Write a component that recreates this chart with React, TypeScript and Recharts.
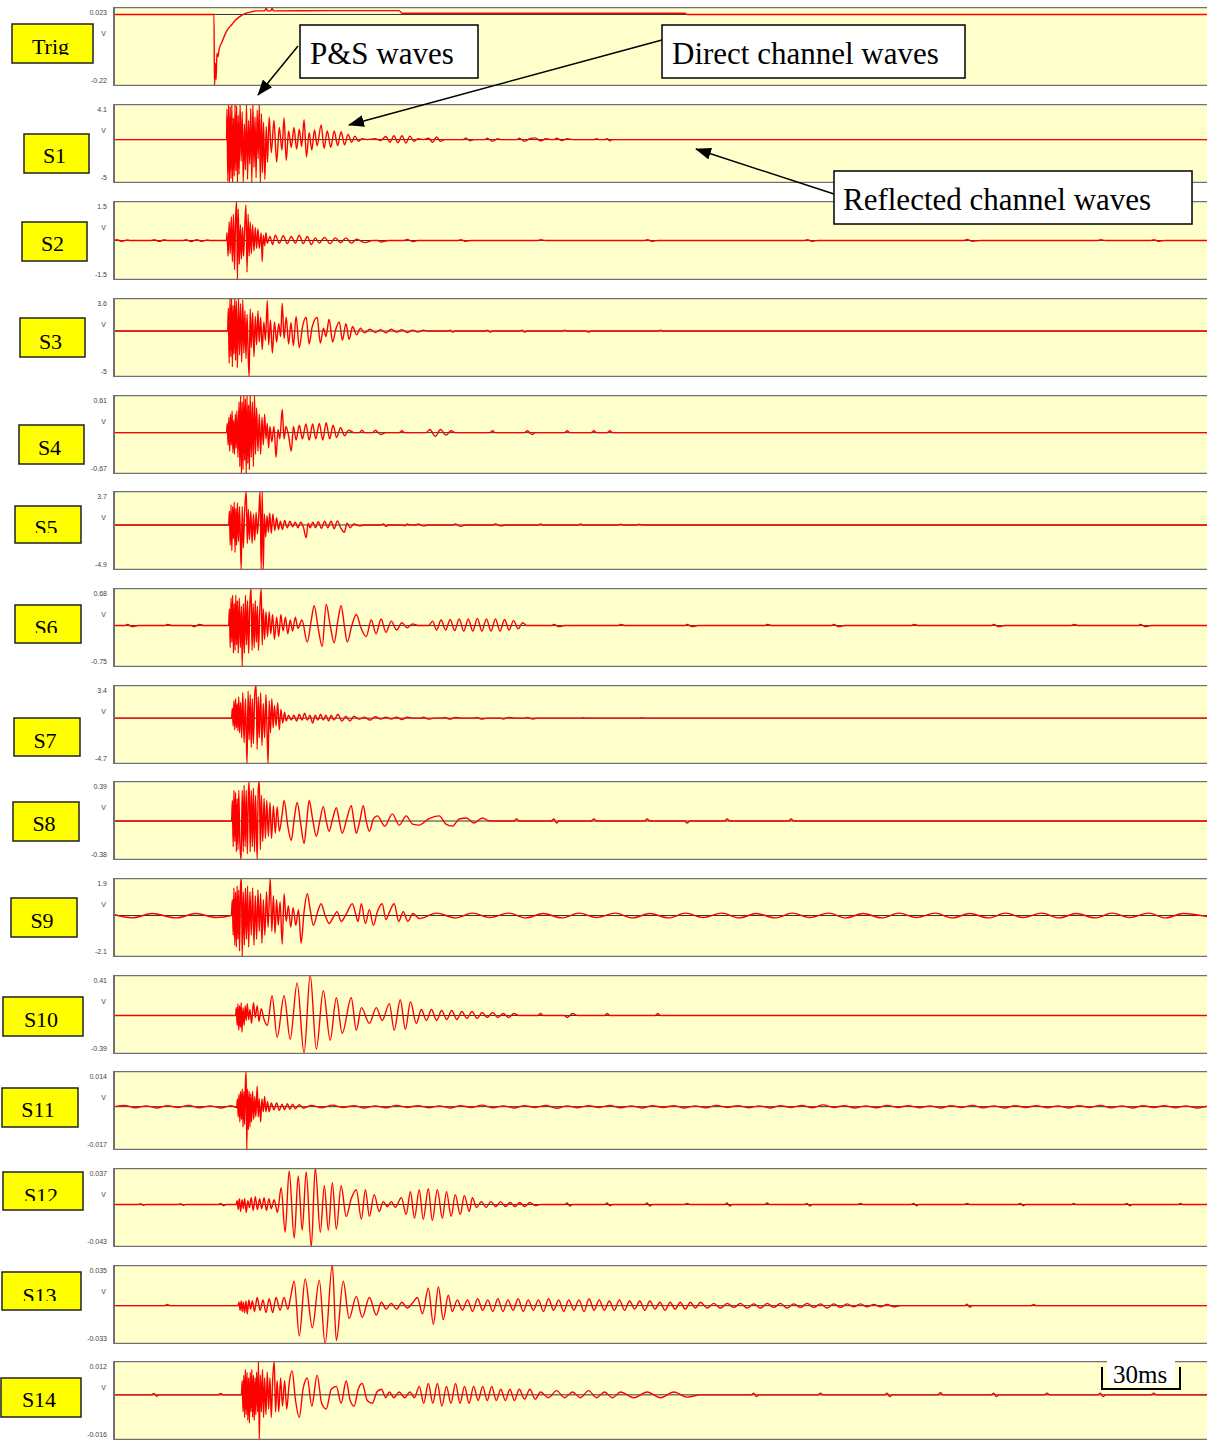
import React from 'react';
import { LineChart, Line, XAxis, YAxis, CartesianGrid, ReferenceLine } from 'recharts';

type Pt = [number, number];

// time in ms, value in V
const trig: Pt[] = [[0,0],[37.5,0],[37.7,-0.22],[38,-0.15],[38.3,-0.2],[38.6,-0.12],[39,-0.13],[39.4,-0.108],[40.5,-0.085],[42,-0.055],[43,-0.042],[44.3,-0.03],[45.5,-0.018],[46.9,-0.008],[48,-0.002],[49.6,0.004],[51.5,0.008],[53.3,0.011],[56.5,0.011],[57.1,0.02],[57.6,0.011],[58.8,0.011],[59.3,0.02],[59.8,0.011],[80,0.012],[107,0.012],[108,0.004],[214,0.004],[215,0],[410,0]];

const s1: Pt[] = [[0,0],[42.2,0],[42.4,3.5],[42.7,-4.8],[43,4.1],[43.3,-5],[43.6,3.8],[43.9,-4.5],[44.2,4.1],[44.5,-5],[44.8,2.5],[45.1,-4.2],[45.4,4.1],[45.7,-3.6],[46,3.9],[46.3,-5],[46.6,2.8],[46.9,-4],[47.3,4.1],[47.7,-2.5],[48.1,3.2],[48.5,-5],[48.9,1.8],[49.3,-3.5],[49.7,4.1],[50.1,-4.6],[50.5,2.2],[50.9,-2.8],[51.3,3.6],[51.7,-5],[52.1,4.1],[52.5,-3.2],[52.9,2.6],[53.3,-4.4],[53.7,3.4],[54.1,-2.2],[54.5,4.1],[54.9,-5],[55.3,3],[55.7,-3.8],[56.1,2],[56.6,-4.6],[57.1,1.5],[57.6,-2.6],[58.2,2.6],[59,-1.5],[60,2.2],[61,-2.6],[62,1.4],[63,-1.2],[63.8,2.5],[64.6,-2.4],[65.5,1],[66.5,-0.9],[67.5,1.4],[68.5,-1.1],[69.5,1.2],[70.4,-0.8],[71.3,2.3],[72.2,-2],[73.2,0.8],[74.2,-1.2],[75.2,1.1],[76.2,-0.7],[77.7,1.7],[78.8,-1],[80,1],[81.3,-0.9],[82.6,1],[83.9,-0.7],[85.2,0.9],[86.5,-0.6],[87.8,0.6],[89.1,-0.3],[90.4,0.4],[91.7,-0.2],[93,0.1],[95,0],[98,0.1],[100,-0.1],[102,0.35],[103.5,-0.3],[105,0.45],[106.5,-0.35],[108,0.45],[109.5,-0.4],[111,0.4],[112.5,-0.2],[114,0.1],[116,0],[118,0.15],[119.5,-0.3],[121,0.3],[122.5,-0.2],[124,0],[131,0],[132,0.2],[133.5,-0.15],[135,0],[139,0],[140,0.15],[142,-0.2],[144,0.1],[145,0],[151,0],[152,0.15],[154,-0.2],[156,0.1],[158,0.2],[160,-0.15],[162,0.1],[164,0],[165,0],[166,0.15],[168,-0.1],[170,0.1],[172,0],[180,0],[181,0.1],[182,0],[184,0],[185,0.1],[186,-0.15],[187,0],[410,0]];

const s2: Pt[] = [[0,0],[1,0.03],[3,-0.03],[5,0.02],[6,0],[14,0],[15,0.03],[17,-0.03],[19,0.03],[20,0],[26,0],[27,0.03],[29,-0.04],[31,0.03],[33,-0.03],[35,0.02],[36,0],[42.2,0],[42.4,0.3],[42.8,-0.6],[43.2,0.7],[43.6,-0.5],[44,0.9],[44.4,-0.8],[44.8,1],[45.2,-1.1],[45.6,0.8],[46,1.5],[46.3,-1.5],[46.6,1.2],[47,-0.9],[47.4,0.6],[47.8,-0.7],[48.2,0.5],[48.6,-0.6],[49,0.4],[49.5,1.35],[49.9,-1.2],[50.3,1],[50.7,-0.6],[51.1,0.7],[51.5,-0.5],[52,0.6],[52.5,-0.4],[53,0.5],[53.5,-0.3],[54,0.45],[54.5,-0.3],[55.2,0.3],[55.6,-0.8],[56,0.2],[56.5,-0.2],[57,0.3],[57.5,-0.1],[58.5,0.15],[59.5,-0.15],[60.5,0.2],[62,-0.1],[63.5,0.18],[65,-0.12],[66.5,0.15],[68,-0.1],[69.5,0.2],[71,-0.12],[72.5,0.15],[74,-0.15],[75.5,0.1],[77,-0.1],[79,0.12],[81,-0.12],[83,0.1],[85,-0.08],[87,0.1],[89,-0.1],[91,0.05],[94,-0.08],[97,0],[99,0],[100,-0.06],[103,0],[109,0],[110,0.04],[112,-0.04],[114,0],[129,0],[130,0.03],[132,-0.03],[134,0],[159,0],[160,0.03],[162,0],[199,0],[200,0.03],[202,-0.03],[204,0],[259,0],[260,0.03],[262,-0.03],[264,0],[319,0],[320,0.04],[322,-0.03],[325,0],[369,0],[370,0.03],[372,0],[389,0],[390,0.03],[392,-0.03],[394,0],[410,0]];

const s3: Pt[] = [[0,0],[42.6,0],[42.9,2.5],[43.2,-3.5],[43.5,3.6],[43.8,-2.8],[44.1,3.6],[44.4,-3.9],[44.7,2.8],[45,-2.5],[45.3,3.6],[45.6,-3.2],[45.9,3.3],[46.3,-4],[46.7,3.6],[47.1,-2.6],[47.5,3],[47.9,-3.4],[48.3,3.4],[48.7,-2.4],[49.1,2.2],[49.5,-3],[49.9,1.8],[50.3,-2.2],[50.7,-5],[51.1,2.4],[51.5,-1.8],[52,2],[52.5,-2.8],[53,1.6],[53.5,-1.5],[54,2.2],[54.5,-1.2],[55,1.5],[55.6,-2],[56.2,1],[56.8,-1],[57.5,3.3],[58,-1.5],[58.7,1.2],[59.4,-2.4],[60.2,1],[61,-1.2],[61.8,0.8],[62.5,-0.6],[63.1,3],[63.8,-0.8],[64.6,1.5],[65.5,-1.4],[66.4,0.9],[67.3,-1.6],[68.3,1.6],[69.5,-1.8],[70.8,0.6],[72.1,1.5],[73.2,-1.4],[74.3,0.4],[76.2,1.5],[77.4,-1.3],[78.6,0.3],[79.5,-0.6],[80.7,1.3],[82,-1.2],[83.2,0.2],[84.5,1],[85.7,-1],[87,0.8],[88.2,-0.9],[89.5,0.5],[91,-0.4],[92.5,0.3],[94,-0.2],[96,0.2],[98,-0.15],[100,0.15],[102,-0.2],[104,0.2],[106,-0.1],[108,0.15],[110,-0.15],[112,0.1],[114,-0.1],[116,0.1],[118,0],[125,0],[126,0.1],[127,-0.1],[128,0],[139,0],[140,0.1],[141,-0.1],[142,0],[152,0],[153,0.1],[154,-0.1],[155,0],[168,0],[169,0.1],[170,0],[177,0],[178,-0.1],[179,0],[204,0],[205,0.1],[206,0],[410,0]];

const s4: Pt[] = [[0,0],[42.2,0],[42.5,0.15],[42.8,-0.2],[43.1,0.25],[43.4,-0.3],[43.7,0.3],[44,-0.2],[44.3,0.35],[44.6,-0.33],[44.9,0.2],[45.2,-0.35],[45.5,0.3],[45.8,-0.25],[46.1,0.35],[46.5,-0.4],[46.9,0.5],[47.2,-0.55],[47.5,0.61],[47.8,-0.67],[48.1,0.5],[48.4,-0.6],[48.7,0.61],[49,-0.45],[49.3,0.55],[49.6,-0.67],[49.9,0.61],[50.2,-0.5],[50.5,0.45],[50.8,-0.6],[51.1,0.61],[51.5,-0.4],[51.9,0.5],[52.3,-0.55],[52.7,0.61],[53.1,-0.35],[53.5,0.4],[54,-0.3],[54.5,0.3],[55,-0.35],[55.5,0.25],[56,-0.2],[56.5,0.3],[57,-0.1],[57.5,0.15],[58,-0.25],[58.5,0.1],[59.2,-0.15],[60,0.1],[60.8,-0.4],[61.5,0.05],[62.2,-0.1],[63.1,0.38],[63.8,-0.1],[64.5,0.1],[65.5,-0.05],[66.5,-0.3],[67.3,0.1],[68.3,-0.12],[69.5,0.12],[70.7,-0.1],[72,0.14],[73.2,-0.12],[74.5,0.14],[75.7,-0.1],[77,0.15],[78.3,-0.12],[79.6,0.16],[80.9,-0.1],[82.2,0.12],[83.5,-0.08],[85,0.08],[86.5,-0.05],[88,0.04],[90,0],[92,0],[93,0.04],[94,0],[97,0],[98,0.04],[100,-0.03],[102,0],[107,0],[108,0.03],[109,0],[117,0],[118.5,0.05],[120.5,-0.06],[122.5,0.05],[124.5,-0.04],[126.5,0.03],[128,0],[141,0],[142,0.03],[143,0],[154,0],[155,0.03],[157,-0.03],[158,0],[169,0],[170,0.03],[171,0],[179,0],[180,0.03],[181,0],[185,0],[186,0.03],[187,0],[410,0]];

const s5: Pt[] = [[0,0],[43,0],[43.3,1.5],[43.6,-2.2],[43.9,2.2],[44.2,-2.8],[44.5,2],[44.8,-1.5],[45.1,2.5],[45.4,-3],[45.7,1.8],[46,-2.2],[46.3,2.4],[46.7,-1.8],[47.1,2],[47.7,-4.9],[48.1,2],[48.5,-2.5],[49,1.5],[49.6,3.7],[50,-2],[50.4,1.7],[50.8,-1.6],[51.3,1.5],[51.8,-2],[52.3,1.2],[52.8,-1.7],[53.3,1.4],[53.8,-1],[54.3,1],[54.8,3.7],[55.2,-4.9],[55.6,3.7],[56,-4.9],[56.4,1.2],[56.9,-1.3],[57.4,1],[57.9,-0.8],[58.4,1.3],[59,-0.9],[59.6,1.2],[60.3,-0.6],[61,0.8],[61.7,-0.5],[62.4,0.4],[63.2,-0.5],[64,0.5],[65,-0.3],[66,0.4],[67,-0.2],[68,0.3],[69,-0.3],[70,0.3],[71,-0.2],[72.1,-1.4],[72.8,0.2],[73.6,-0.3],[74.6,0.3],[75.6,-0.3],[76.6,0.35],[77.8,-0.35],[79,0.4],[80.2,-0.3],[81.4,0.4],[82.6,-0.4],[83.8,0.45],[85,-0.3],[86.4,-0.8],[87.4,0.2],[88.6,-0.3],[90,0.1],[92,-0.1],[94,0],[100,0],[101,0.1],[102,-0.15],[103,0],[108,0],[109,-0.1],[110,0.1],[111,0],[113,0],[114,0.1],[116,-0.1],[118,0],[127,0],[128,0.1],[130,-0.15],[132,0],[142,0],[143,0.1],[145,-0.1],[147,0],[159,0],[160,0.1],[161,0],[174,0],[175,0.1],[176,0],[189,0],[190,0.08],[191,0],[196,0],[197,0.08],[198,0],[410,0]];

const s6: Pt[] = [[0,0],[4,0],[5,0.02],[7,-0.02],[9,0],[19,0],[20,0.02],[22,0],[29,0],[30,-0.02],[32,0.02],[34,0],[43,0],[43.3,0.3],[43.6,-0.4],[43.9,0.5],[44.2,-0.3],[44.5,0.55],[44.8,-0.5],[45.1,0.4],[45.4,-0.45],[45.7,0.55],[46,-0.35],[46.3,0.45],[46.6,-0.5],[47,0.5],[47.4,-0.4],[47.8,0.35],[48.1,-0.75],[48.5,0.4],[48.9,-0.5],[49.3,0.55],[49.7,-0.35],[50.1,0.45],[50.5,-0.5],[50.9,0.3],[51.4,0.68],[51.8,-0.45],[52.2,0.4],[52.6,-0.4],[53,0.45],[53.4,-0.3],[53.8,0.35],[54.2,-0.45],[54.7,0.3],[55.2,0.68],[55.6,-0.35],[56,0.3],[56.5,-0.25],[57,0.25],[57.6,-0.2],[58.2,0.25],[58.8,-0.15],[59.5,0.2],[60.2,-0.25],[61,0.15],[61.8,-0.2],[62.6,0.2],[63.4,-0.1],[64.3,0.15],[65.2,-0.15],[66.1,0.1],[67,-0.1],[68,0.15],[69,-0.05],[70.5,0.1],[72.5,-0.3],[74,0.1],[75.1,0.36],[76.6,-0.05],[78.1,-0.38],[79.6,0.38],[81.1,0],[82.6,-0.31],[84,0.1],[85.2,0.36],[86.4,0],[87.5,-0.3],[89.2,0],[90.9,0.2],[92.7,-0.05],[94.6,-0.2],[96.5,0.1],[98.3,-0.15],[100.2,0.12],[102,-0.12],[104,0.08],[106,-0.08],[108,0.05],[110,-0.04],[112,0.03],[114,0],[118,0],[119.5,0.08],[121,-0.08],[122.7,0.1],[124.4,-0.08],[126.1,0.11],[127.8,-0.09],[129.5,0.12],[131.2,-0.1],[132.9,0.12],[134.6,-0.1],[136.3,0.13],[138,-0.1],[139.7,0.12],[141.4,-0.1],[143.1,0.12],[144.8,-0.1],[146.5,0.11],[148.2,-0.08],[149.9,0.09],[151.6,-0.06],[153.3,0.05],[155,0],[164,0],[165,0.02],[167,-0.02],[169,0],[189,0],[190,0.02],[192,0],[214,0],[215,0.02],[217,-0.02],[219,0],[244,0],[245,0.02],[247,0],[269,0],[270,0.02],[272,-0.02],[274,0],[299,0],[300,0.02],[302,0],[329,0],[330,0.02],[332,-0.02],[334,0],[359,0],[360,0.02],[362,0],[384,0],[385,0.02],[387,-0.02],[389,0],[410,0]];

const s7: Pt[] = [[0,0],[44.1,0],[44.4,1],[44.7,-0.8],[45,1.8],[45.3,-1.2],[45.6,2],[45.9,-1],[46.2,1.5],[46.5,-1.3],[46.8,2.2],[47.1,-1.5],[47.5,1.6],[47.9,-2],[48.3,2.6],[48.8,-2.5],[49.3,2],[49.9,-4.7],[50.3,2.8],[50.7,-2.2],[51.1,2.4],[51.5,-3],[51.9,2],[52.3,-2.6],[52.8,2.5],[53.3,3.4],[53.7,-3.2],[54.1,2.2],[54.5,-2],[55,2.6],[55.5,-2.8],[56,1.5],[56.5,-2],[57,2.4],[57.4,-1.2],[57.8,-4.7],[58.2,1.8],[58.7,-1.5],[59.2,2],[59.7,-1],[60.2,1.3],[60.8,-0.8],[61.4,1.6],[62,-1.2],[62.6,0.9],[63.3,-0.5],[64,0.6],[64.6,-0.3],[65.5,0.3],[66.5,-0.2],[67.5,0.3],[68.5,-0.3],[69.5,0.4],[70.5,-0.2],[71.5,0.5],[72.5,-0.2],[73.5,0.3],[74.5,-0.5],[75.5,0.3],[76.5,-0.2],[77.5,0.4],[78.5,-0.2],[79.5,0.3],[80.5,-0.3],[81.5,0.3],[82.5,-0.2],[84,0.4],[85.5,-0.3],[87,0.2],[88.5,-0.3],[90,0.2],[92,-0.1],[94,0.1],[96,-0.2],[98,0.15],[100,-0.1],[102,0.1],[104,-0.1],[106,0.1],[108,-0.15],[110,0.1],[112,0],[115,0],[116,0.1],[118,-0.1],[120,0],[123,0],[124,0.08],[126,-0.1],[128,0.08],[130,0],[135,0],[136,0.08],[138,-0.1],[140,0],[145,0],[146,-0.08],[148,0.08],[150,0],[154,0],[155,0.08],[157,-0.08],[159,0],[175,0],[176,0.06],[177,0],[197,0],[198,0.06],[199,0],[410,0]];

const s8: Pt[] = [[0,0],[44.1,0],[44.4,0.2],[44.7,-0.25],[45,0.3],[45.3,-0.2],[45.6,0.28],[45.9,-0.3],[46.2,0.22],[46.5,-0.28],[46.8,0.3],[47.2,-0.2],[47.7,-0.38],[48.1,0.3],[48.5,-0.3],[48.8,0.35],[49.2,-0.25],[49.6,0.3],[50,-0.32],[50.4,0.25],[50.7,0.39],[51.1,-0.3],[51.5,0.3],[51.9,-0.25],[52.3,0.32],[52.7,-0.3],[53.1,0.25],[53.7,-0.38],[54.1,0.3],[54.5,0.39],[54.9,-0.28],[55.3,0.25],[55.8,-0.2],[56.3,0.22],[56.8,-0.17],[57.3,0.2],[57.9,-0.15],[58.5,0.18],[59.1,-0.17],[59.8,0.15],[60.5,-0.12],[61.2,0.14],[62,-0.1],[63,0.05],[63.8,0.2],[65.2,-0.05],[66.5,-0.19],[67.6,0.02],[68.7,0.18],[70,-0.02],[71.3,-0.22],[72.3,0],[73.2,0.2],[74.5,0.02],[75.9,-0.15],[77.2,0],[78.5,0.14],[79.6,0],[80.7,-0.1],[82,0.02],[83.4,0.13],[84.5,0],[85.6,-0.12],[87.3,0.02],[89,0.15],[90,0],[90.9,-0.12],[92.2,0],[93.5,0.15],[94.6,0],[95.8,-0.1],[97.3,0.02],[98.8,0.05],[101.6,-0.05],[104.4,0.07],[107,-0.04],[109.6,0.05],[112,-0.03],[114.5,-0.04],[118,0.02],[122,0.05],[124.5,-0.03],[126.9,-0.05],[129.5,0.02],[132.2,0.03],[135,-0.02],[138.2,0.03],[141,0],[150,0],[151,0.02],[152,0],[164,0],[165,0.02],[166,-0.02],[167,0],[179,0],[180,0.02],[181,0],[199,0],[200,0.02],[201,0],[214,0],[215,-0.02],[216,0],[229,0],[230,0.02],[231,0],[253,0],[254,0.02],[255,0],[410,0]];

const s9: Pt[] = [[0,0.05],[6.8,-0.12],[14.3,0.1],[23.3,-0.12],[30.8,0.1],[38.3,-0.1],[44,0],[44.4,0.8],[44.7,-1],[45,1.4],[45.3,-1.5],[45.6,1.2],[45.9,-1.6],[46.2,1.5],[46.5,-1.2],[46.8,1.3],[47.1,-1.8],[47.5,1.6],[47.8,1.9],[48.1,-2.1],[48.5,1.2],[48.9,-1.5],[49.3,1.4],[49.7,-1.2],[50.1,1.5],[50.5,-1.6],[51,1.2],[51.5,-1],[52,1.4],[52.5,-1.5],[53,1],[53.5,-1.2],[54,1.3],[54.5,-0.8],[55,1.1],[55.5,-1.4],[56,0.8],[56.6,-1],[57.2,1.2],[57.8,-0.6],[58.6,1.9],[59.2,-0.8],[59.8,1],[60.4,-0.9],[61,0.8],[61.6,-0.5],[62.3,0.7],[63.1,-1.45],[63.8,1.1],[64.6,-0.3],[65.4,0.5],[66.3,-0.6],[67.2,0.4],[68.2,-0.5],[69.2,0.3],[70.2,-1.4],[71.3,0.2],[72.5,1.1],[73.6,0.3],[74.8,-0.5],[76.2,0.1],[77.7,0.6],[79.2,0],[80.7,-0.4],[82.2,-0.1],[83.7,0.2],[85.2,-0.3],[87.2,0.1],[89.4,0.6],[90.6,0.1],[91.5,-0.3],[92.8,0.6],[94.3,-0.4],[95.8,0.3],[97.3,-0.5],[98.8,0.2],[100.6,0.6],[102,-0.2],[103.4,0.2],[105.1,0.6],[106.8,-0.3],[108.5,0.2],[110.2,-0.3],[112.2,0.1],[114.5,-0.15],[121,0.12],[128,-0.12],[134.5,0.12],[141,-0.1],[148,0.12],[154.5,-0.12],[161,0.1],[168,-0.12],[174.5,0.12],[181,-0.1],[188,0.12],[194.5,-0.12],[201,0.1],[208,-0.12],[214.5,0.12],[221,-0.1],[228,0.12],[234.5,-0.12],[241,0.1],[248,-0.12],[254.5,0.12],[261,-0.1],[268,0.12],[274.5,-0.12],[281,0.1],[288,-0.12],[294.5,0.12],[301,-0.1],[308,0.12],[314.5,-0.12],[321,0.1],[328,-0.12],[334.5,0.12],[341,-0.1],[348,0.12],[354.5,-0.12],[361,0.1],[368,-0.12],[374.5,0.12],[381,-0.1],[388,0.12],[394.5,-0.12],[401,0.1],[410,-0.05]];

const s10: Pt[] = [[0,0],[45.6,0],[45.9,0.08],[46.2,-0.1],[46.5,0.12],[46.8,-0.15],[47.1,0.1],[47.4,-0.12],[47.7,0.13],[48,-0.17],[48.4,0.08],[48.8,-0.1],[49.2,0.1],[49.6,-0.05],[50,0.12],[50.5,-0.04],[51,0.06],[51.6,-0.08],[52.3,0.13],[53,-0.02],[53.7,0.1],[54.4,-0.06],[55.2,0.07],[56.3,-0.04],[57.5,-0.1],[59.3,0.2],[61.2,-0.22],[63.8,0.2],[66.1,-0.24],[68.7,0.33],[71.3,-0.38],[73.6,0.41],[75.9,-0.34],[78.5,0.25],[81.1,-0.25],[83.4,0.18],[85.6,-0.18],[89,0.18],[90.9,-0.15],[92.8,0.08],[95.8,-0.08],[98.4,0.08],[100.6,-0.05],[103.3,0.12],[105.1,-0.15],[107.4,0.16],[109.3,-0.14],[111.2,0.14],[113.4,-0.08],[115.3,0.06],[117.2,-0.05],[119.1,0.06],[121,-0.05],[122.9,0.05],[124.8,-0.04],[126.7,0.05],[128.6,-0.04],[130.5,0.04],[132.4,-0.03],[134.3,0.04],[136.2,-0.03],[138.1,0.03],[140,-0.02],[142,0.03],[144,-0.02],[146,0.02],[148,-0.02],[150,0.02],[152,0],[159,0],[160,0.02],[161,0],[169,0],[170,-0.02],[172,0.02],[174,0],[184,0],[185,0.02],[186,0],[203,0],[204,0.02],[205,0],[410,0]];

const s11: Pt[] = [[0,0],[4,0.0005],[8,-0.0004],[12,0.0003],[16,-0.0005],[20,0.0004],[24,-0.0003],[28,0.0005],[32,-0.0004],[36,0.0003],[40,-0.0005],[44,0.0004],[46,-0.0003],[46.3,0.003],[46.6,-0.004],[46.9,0.005],[47.2,-0.006],[47.5,0.006],[47.8,-0.005],[48.1,0.007],[48.4,-0.008],[48.7,0.006],[49,-0.007],[49.3,0.009],[49.6,0.014],[49.8,-0.017],[50.1,0.007],[50.4,-0.009],[50.7,0.006],[51,-0.008],[51.3,0.005],[51.6,-0.006],[52,0.006],[52.4,-0.005],[52.8,0.004],[53.2,-0.004],[53.7,0.008],[54.1,-0.004],[54.5,0.003],[55,-0.006],[55.5,0.003],[56,-0.002],[56.5,0.004],[57,-0.002],[57.6,0.002],[58.2,-0.002],[59,0.0015],[60,-0.0012],[61,0.0015],[62,-0.0015],[63,0.001],[64,-0.0012],[65,0.0012],[66,-0.001],[67,0.001],[68,-0.0008],[69.5,0.0008],[71,-0.0006],[74,0.0005],[78,-0.0004],[82,0.0006],[86,-0.0003],[90,0.0004],[94,-0.0005],[98,0.0003],[102,-0.0004],[106,0.0005],[110,-0.0003],[114,0.0004],[118,-0.0004],[122,0.0003],[126,-0.0005],[130,0.0004],[134,-0.0003],[138,0.0006],[142,-0.0004],[146,0.0003],[150,-0.0005],[154,0.0004],[158,-0.0003],[162,0.0005],[166,-0.0006],[170,0.0003],[174,-0.0004],[178,0.0004],[182,-0.0003],[186,0.0005],[190,-0.0004],[194,0.0003],[198,-0.0005],[202,0.0004],[206,-0.0003],[210,0.0004],[214,-0.0005],[218,0.0003],[222,-0.0004],[226,0.0005],[230,-0.0003],[234,0.0004],[238,-0.0004],[242,0.0003],[246,-0.0005],[250,0.0004],[254,-0.0003],[258,0.0005],[262,-0.0004],[266,0.0007],[270,-0.0003],[274,0.0004],[278,-0.0005],[282,0.0003],[286,-0.0004],[290,0.0005],[294,-0.0003],[298,0.0004],[302,-0.0004],[306,0.0003],[310,-0.0005],[314,0.0004],[318,-0.0003],[322,0.0005],[326,-0.0004],[330,0.0003],[334,-0.0005],[338,0.0004],[342,-0.0003],[346,0.0004],[350,-0.0004],[354,0.0003],[358,-0.0005],[362,0.0004],[366,-0.0003],[370,0.0005],[374,-0.0004],[378,0.0003],[382,-0.0005],[386,0.0004],[390,-0.0003],[394,0.0004],[398,-0.0004],[402,0.0003],[406,-0.0005],[410,0.0002]];

const s12: Pt[] = [[0,0],[9,0],[10,0.0008],[11,-0.0008],[12,0],[24,0],[25,0.0008],[26,-0.0008],[27,0],[39,0],[40,0.001],[41,-0.001],[42,0],[45.8,0],[46.2,0.004],[46.6,-0.005],[47,0.006],[47.5,-0.007],[48,0.005],[48.5,-0.004],[49,0.006],[49.6,-0.008],[50.2,0.004],[50.8,-0.003],[51.5,0.007],[52.2,-0.006],[53,0.008],[53.8,-0.005],[54.6,0.006],[55.4,-0.004],[56.3,0.007],[57.2,-0.006],[58.1,0.006],[59,-0.004],[60.1,0.005],[61.3,-0.008],[62.7,0.017],[64.2,-0.028],[65.7,0.034],[67.6,-0.034],[69.1,0.029],[70.6,-0.026],[72.1,0.033],[74,-0.043],[75.5,0.037],[77.4,-0.028],[78.9,0.019],[80.4,-0.026],[81.9,0.022],[83.4,-0.025],[85.2,0.019],[87.1,-0.012],[89,0.006],[90.9,0.015],[92.8,-0.015],[94.3,0.015],[95.8,-0.012],[97.6,0.01],[99.5,-0.007],[101,0.003],[102.5,-0.002],[104,0.003],[105.5,-0.003],[107.8,0.007],[109.6,-0.01],[111.2,0.013],[112.7,-0.014],[114.5,0.015],[116,-0.015],[117.9,0.016],[119.4,-0.016],[121.3,0.015],[123.2,-0.014],[124.7,0.013],[126.5,-0.012],[128,0.01],[129.9,-0.01],[131.4,0.009],[133.3,-0.007],[134.4,0.007],[136,-0.003],[137.8,0.003],[139.6,-0.003],[141.4,0.003],[143.2,-0.002],[145,0.003],[146.8,-0.002],[148.6,0.002],[150.4,-0.002],[152.2,0.002],[154,-0.002],[156,0.002],[158,-0.001],[160,0],[169,0],[170,0.0015],[171,-0.0015],[172,0],[184,0],[185,0.0015],[186,-0.001],[187,0],[199,0],[200,0.0015],[201,-0.0015],[202,0],[214,0],[215,0.0012],[216,0],[229,0],[230,0.0015],[231,-0.0015],[232,0],[244,0],[245,0.0015],[246,0],[259,0],[260,0.0012],[261,-0.0015],[262,0],[279,0],[280,0.0012],[281,0],[299,0],[300,0.0012],[301,-0.0012],[302,0],[319,0],[320,0.0012],[321,0],[339,0],[340,0.0012],[341,-0.0012],[342,0],[359,0],[360,0.001],[361,0],[379,0],[380,0.0012],[381,-0.0012],[382,0],[399,0],[400,0.001],[401,0],[410,0]];

const s13: Pt[] = [[0,0],[19,0],[20,0.001],[21,0],[46.5,0],[46.9,0.003],[47.3,-0.004],[47.7,0.004],[48.1,-0.005],[48.5,0.003],[49,-0.006],[49.5,0.004],[50,-0.007],[50.6,0.005],[51.2,-0.003],[51.9,0.004],[52.7,-0.005],[53.7,0.007],[54.8,-0.004],[55.9,0.005],[57,-0.006],[58.2,0.006],[59.5,-0.006],[60.8,0.007],[62.3,-0.004],[63.8,0.007],[65.2,-0.003],[66.3,0.008],[67.6,0.021],[69.5,-0.026],[71.7,0.023],[74.4,-0.019],[77,0.022],[79.2,-0.033],[81.9,0.035],[83.4,-0.03],[86,0.021],[88.2,-0.011],[90.9,0.008],[93.1,-0.01],[95.8,0.007],[98.4,-0.008],[100.3,0.003],[102.1,-0.003],[104,0.002],[106,-0.003],[108,0.003],[110,-0.002],[111.9,0.002],[113.8,0.007],[115.7,-0.007],[117.9,0.015],[119.8,-0.016],[121.7,0.016],[123.5,-0.012],[125.4,0.009],[126.9,-0.005],[128.8,0.005],[130.7,-0.004],[132.6,0.005],[134.5,-0.005],[136.4,0.006],[138.3,-0.004],[140.2,0.005],[142.1,-0.005],[144,0.006],[145.9,-0.005],[147.8,0.005],[149.7,-0.004],[151.6,0.006],[153.5,-0.005],[155.4,0.005],[157.3,-0.004],[159.2,0.005],[161.1,-0.005],[163,0.006],[164.9,-0.004],[166.8,0.005],[168.7,-0.005],[170.6,0.005],[172.5,-0.004],[174.4,0.005],[176.3,-0.005],[178.2,0.006],[180.1,-0.004],[182,0.005],[183.9,-0.004],[185.8,0.004],[187.7,-0.004],[189.6,0.005],[191.5,-0.004],[193.4,0.004],[195.3,-0.003],[197.2,0.004],[199.1,-0.004],[201,0.004],[202.9,-0.003],[204.8,0.003],[206.7,-0.004],[208.6,0.003],[210.5,-0.003],[212.4,0.003],[214.3,-0.003],[216.2,0.003],[218.1,-0.002],[220,0.003],[222.5,-0.002],[225,0.002],[227.5,-0.002],[230,0.002],[232.5,-0.0015],[235,0.002],[237.5,-0.002],[240,0.0015],[242.5,-0.002],[245,0.002],[247.5,-0.0015],[250,0.002],[252.5,-0.002],[255,0.0015],[257.5,-0.0015],[260,0.002],[262.5,-0.0015],[265,0.0015],[267.5,-0.002],[270,0.0015],[272.5,-0.0015],[275,0.0015],[277.5,-0.001],[280,0.0015],[282.5,-0.001],[285,0.001],[287.5,-0.001],[290,0.001],[292.5,-0.001],[295,0],[319,0],[320,0.0012],[321,-0.0012],[322,0],[344,0],[345,0.001],[346,0],[410,0]];

const s14: Pt[] = [[0,0],[14,0],[15,0.0005],[16,-0.0005],[17,0],[39,0],[40,0.0005],[41,0],[47.8,0],[48.1,0.005],[48.4,-0.006],[48.7,0.007],[49,-0.008],[49.3,0.009],[49.6,-0.007],[49.9,0.008],[50.2,-0.009],[50.5,0.006],[50.8,-0.01],[51.1,0.008],[51.4,-0.006],[51.7,0.009],[52,-0.008],[52.3,0.007],[52.6,-0.009],[52.9,0.006],[53.2,-0.007],[53.5,0.008],[53.9,-0.006],[54.2,0.012],[54.5,-0.016],[54.9,0.007],[55.3,-0.006],[55.7,0.009],[56.1,-0.008],[56.5,0.006],[57,-0.007],[57.5,0.008],[58,-0.005],[58.5,0.006],[59,-0.008],[59.5,0.005],[60.1,0.012],[60.6,-0.006],[61.2,0.005],[61.8,-0.006],[62.5,0.006],[63.2,-0.004],[64,0.005],[64.8,-0.005],[65.7,0.004],[66.8,0.0085],[68.1,-0.002],[69.5,-0.008],[70.9,0.002],[72.5,0.006],[74.2,-0.004],[76.2,0.007],[77.9,-0.003],[79.6,-0.005],[81.5,0.002],[83.4,0.003],[85.2,-0.003],[87.1,0.005],[88.6,-0.002],[90.1,-0.004],[91.6,0.002],[93.1,0.004],[95,-0.002],[96.9,-0.003],[98.6,0.001],[100.3,0.002],[102,-0.001],[103.3,0.001],[105,-0.001],[107,0.001],[109,-0.001],[111,0.001],[112.7,-0.001],[114.5,0.003],[116.2,-0.003],[117.9,0.004],[119.6,-0.003],[121.3,0.004],[123,-0.004],[124.7,0.003],[126.4,-0.003],[128.1,0.004],[129.8,-0.003],[131.5,0.003],[133.2,-0.003],[134.9,0.003],[136.6,-0.002],[138.3,0.003],[140,-0.002],[141.7,0.003],[143.4,-0.002],[145.1,0.002],[146.8,-0.002],[148.5,0.002],[150.2,-0.002],[152,0.002],[154,-0.0015],[156,0.002],[158,-0.0015],[160,0.001],[163,-0.001],[166,0.0015],[169,-0.001],[172,0.001],[175,-0.001],[178,0.0015],[181,-0.001],[184,0.001],[187,-0.001],[190,0.001],[195,-0.001],[200,0.001],[205,-0.001],[210,0.001],[215,-0.0008],[220,0],[239,0],[240,0.0006],[241,-0.0006],[242,0],[264,0],[265,0.0006],[266,0],[289,0],[290,0.0006],[291,-0.0006],[292,0],[309,0],[310,0.0008],[311,0],[329,0],[330,0.0006],[331,-0.0006],[332,0],[349,0],[350,0.0006],[351,0],[369,0],[370,0.0006],[371,-0.0006],[372,0],[389,0],[390,0.0006],[391,0],[410,0]];

const channelNames = ['Trig', 'S1', 'S2', 'S3', 'S4', 'S5', 'S6', 'S7', 'S8', 'S9', 'S10', 'S11', 'S12', 'S13', 'S14'];
const maxLabels = ['0.023', '4.1', '1.5', '3.6', '0.61', '3.7', '0.68', '3.4', '0.39', '1.9', '0.41', '0.014', '0.037', '0.035', '0.012'];
const minLabels = ['-0.22', '-5', '-1.5', '-5', '-0.67', '-4.9', '-0.75', '-4.7', '-0.38', '-2.1', '-0.39', '-0.017', '-0.043', '-0.033', '-0.016'];
const traces = [trig, s1, s2, s3, s4, s5, s6, s7, s8, s9, s10, s11, s12, s13, s14];

// layout
const PANEL_TOPS = [7, 104, 201, 298, 395, 491, 588, 685, 781, 878, 975, 1071, 1168, 1265, 1361];
const PANEL_H = 79;
const CHART_LEFT = 80;
const CHART_W = 1127;
const AXIS_W = 34;
const T_MAX = 410;

// yellow name boxes: x, y, w, h, text baseline, clip line
const nameBoxes = [
  [12, 24, 81, 39, 54, 55], [24, 134, 65, 39, 163, 172], [22, 222, 65, 39, 251, 260], [20, 318, 65, 39, 349, 356],
  [19, 425, 65, 39, 455, 463], [15, 506, 66, 37, 535, 533], [15, 605, 66, 38, 635, 633], [14, 718, 66, 38, 748, 755],
  [13, 802, 66, 39, 831, 840], [11, 898, 66, 39, 928, 936], [3, 997, 80, 39, 1027, 1035], [2, 1088, 76, 39, 1117, 1126],
  [3, 1172, 80, 38, 1203, 1201], [2, 1272, 79, 38, 1303, 1301], [1, 1378, 80, 39, 1407, 1416],
];

const SERIF = "'Liberation Serif', 'Times New Roman', serif";
const SANS = "'Liberation Sans', Arial, sans-serif";

const Panel = ({ idx }: { idx: number }) => {
  const minV = Number(minLabels[idx]);
  const maxV = Number(maxLabels[idx]);
  const data = traces[idx].map(([t, v]) => ({ t, v }));

  const renderTick = (props: any) => {
    const { x, y, payload } = props;
    const isMax = payload.value === maxV;
    return (
      <g>
        <text x={x} y={y} dy={isMax ? 8 : -3} textAnchor="end" fontSize={7} fill="#444" fontFamily={SANS}>
          {isMax ? maxLabels[idx] : minLabels[idx]}
        </text>
        {isMax && (
          <text x={x - 1} y={y} dy={29} textAnchor="end" fontSize={7} fill="#444" fontFamily={SANS}>V</text>
        )}
      </g>
    );
  };

  return (
    <div style={{ position: 'absolute', left: CHART_LEFT, top: PANEL_TOPS[idx], width: CHART_W, height: PANEL_H }}>
      <LineChart width={CHART_W} height={PANEL_H} data={data} margin={{ top: 0, right: 0, bottom: 0, left: 0 }}>
        <CartesianGrid fill="#ffffcc" horizontal={false} vertical={false} />
        <XAxis type="number" dataKey="t" domain={[0, T_MAX]} hide allowDataOverflow />
        <YAxis
          type="number"
          domain={[minV, maxV]}
          ticks={[minV, maxV]}
          interval={0}
          width={AXIS_W}
          axisLine={false}
          tickLine={false}
          tickSize={0}
          tickMargin={7}
          tick={renderTick}
          allowDataOverflow
        />
        <ReferenceLine y={0} stroke="#333" strokeWidth={1} />
        <Line type="monotone" dataKey="v" stroke="#ff0000" strokeWidth={1.4} dot={false} isAnimationActive={false} />
        <ReferenceLine y={maxV} stroke="#707070" strokeWidth={2.5} />
        <ReferenceLine y={minV} stroke="#707070" strokeWidth={2.5} />
        <ReferenceLine x={0} stroke="#707070" strokeWidth={2} />
      </LineChart>
    </div>
  );
};

const Overlay = () => (
  <svg width={1207} height={1441} style={{ position: 'absolute', left: 0, top: 0, pointerEvents: 'none' }}>
    <defs>
      <marker id="ah" markerWidth="16" markerHeight="12" refX="15" refY="6" orient="auto" markerUnits="userSpaceOnUse">
        <path d="M0,0 L16,6 L0,12 z" fill="#000" />
      </marker>
      {nameBoxes.map((b, i) => (
        <clipPath id={`clip${i}`} key={i}>
          <rect x={b[0]} y={b[1]} width={b[2]} height={b[5] - b[1]} />
        </clipPath>
      ))}
    </defs>

    {nameBoxes.map((b, i) => (
      <g key={i}>
        <rect x={b[0]} y={b[1]} width={b[2]} height={b[3]} fill="#ffff00" stroke="#222" strokeWidth={1.5} />
        <text x={b[0] + b[2] / 2 - 2} y={b[4]} textAnchor="middle" fontSize={22} fontFamily={SERIF} fill="#000" clipPath={`url(#clip${i})`}>
          {channelNames[i]}
        </text>
      </g>
    ))}

    <line x1={298} y1={46} x2={258} y2={95} stroke="#000" strokeWidth={1.5} markerEnd="url(#ah)" />
    <line x1={662} y1={40} x2={349} y2={125} stroke="#000" strokeWidth={1.5} markerEnd="url(#ah)" />
    <line x1={834} y1={194} x2={696} y2={149} stroke="#000" strokeWidth={1.5} markerEnd="url(#ah)" />

    <rect x={300} y={25} width={178} height={53} fill="#fff" stroke="#000" strokeWidth={1.5} />
    <text x={310} y={64} fontSize={31} fontFamily={SERIF} fill="#000">P&amp;S waves</text>
    <rect x={662} y={25} width={303} height={53} fill="#fff" stroke="#000" strokeWidth={1.5} />
    <text x={672} y={64} fontSize={31} fontFamily={SERIF} fill="#000">Direct channel waves</text>
    <rect x={834} y={171} width={358} height={53} fill="#fff" stroke="#000" strokeWidth={1.5} />
    <text x={843} y={210} fontSize={31} fontFamily={SERIF} fill="#000">Reflected channel waves</text>

    <path d="M1102,1367 V1389 H1180 V1367" fill="none" stroke="#000" strokeWidth={2} />
    <rect x={1107} y={1360} width={68} height={25} fill="#fff" />
    <text x={1113} y={1383} fontSize={25} fontFamily={SERIF} fill="#000">30ms</text>
  </svg>
);

export default function App() {
  return (
    <div style={{ position: 'absolute', left: 0, top: 0, width: 1207, height: 1441, background: '#fff', overflow: 'hidden' }}>
      {channelNames.map((_, i) => (
        <Panel key={i} idx={i} />
      ))}
      <Overlay />
    </div>
  );
}
